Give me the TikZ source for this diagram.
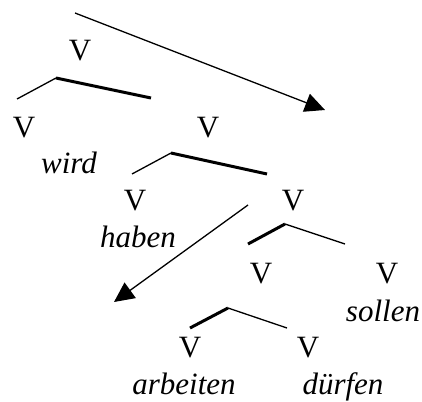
\documentclass[tikz,border=0pt]{standalone}
\usepackage{fontspec}
\setmainfont{Liberation Serif}
\usetikzlibrary{arrows.meta}
\tikzset{
  cat/.style={font=\fontsize{31}{36}\selectfont, anchor=base, inner sep=0pt},
  word/.style={font=\fontsize{31}{36}\selectfont\itshape, anchor=base, inner sep=0pt},
  thin/.style={line width=1.3pt},
  head/.style={line width=3pt},
  move/.style={line width=1.3pt, -{Triangle[length=20pt,width=19pt]}}
}
\begin{document}
\begin{tikzpicture}[x=1pt,y=-1pt]
            \useasboundingbox (0,0) rectangle (422,401);
            % Categories
            \node[cat] (V0) at (80,61) {V};
            \node[cat] (V1) at (24,137) {V};
            \node[cat] (V2) at (208,137) {V};
            \node[cat] (V3) at (135,210) {V};
            \node[cat] (V4) at (293,210) {V};
            \node[cat] (V5) at (261,283) {V};
            \node[cat] (V6) at (387,283) {V};
            \node[cat] (V7) at (190,357) {V};
            \node[cat] (V8) at (308,357) {V};
            % Words
            \node[word] (wird) at (69,173) {wird};
            \node[word] (haben) at (138,247) {haben};
            \node[word] (sollen) at (383,321) {sollen};
            \node[word] (arbeiten) at (184,394) {arbeiten};
            \node[word] (duerfen) at (343,394) {dürfen};
            % Branches
            \coordinate (A0) at (56,78);  \coordinate (L0) at (17,99);   \coordinate (R0) at (151,98);
            \coordinate (A1) at (171,153); \coordinate (L1) at (132,174); \coordinate (R1) at (267,174);
            \coordinate (A2) at (285,224); \coordinate (L2) at (248,244); \coordinate (R2) at (345,244);
            \coordinate (A3) at (228,308); \coordinate (L3) at (190,328); \coordinate (R3) at (287,328);
            \draw[thin] (A0) -- (L0);  \draw[head] (A0) -- (R0);
            \draw[thin] (A1) -- (L1);  \draw[head] (A1) -- (R1);
            \draw[head] (A2) -- (L2);  \draw[thin] (A2) -- (R2);
            \draw[head] (A3) -- (L3);  \draw[thin] (A3) -- (R3);
            % Movement arrows
            \coordinate (S1) at (75,13);   \coordinate (T1) at (325,110);
            \coordinate (S2) at (248,205); \coordinate (T2) at (114,302);
            \draw[move] (S1) -- (T1);
            \draw[move] (S2) -- (T2);
\end{tikzpicture}
\end{document}
